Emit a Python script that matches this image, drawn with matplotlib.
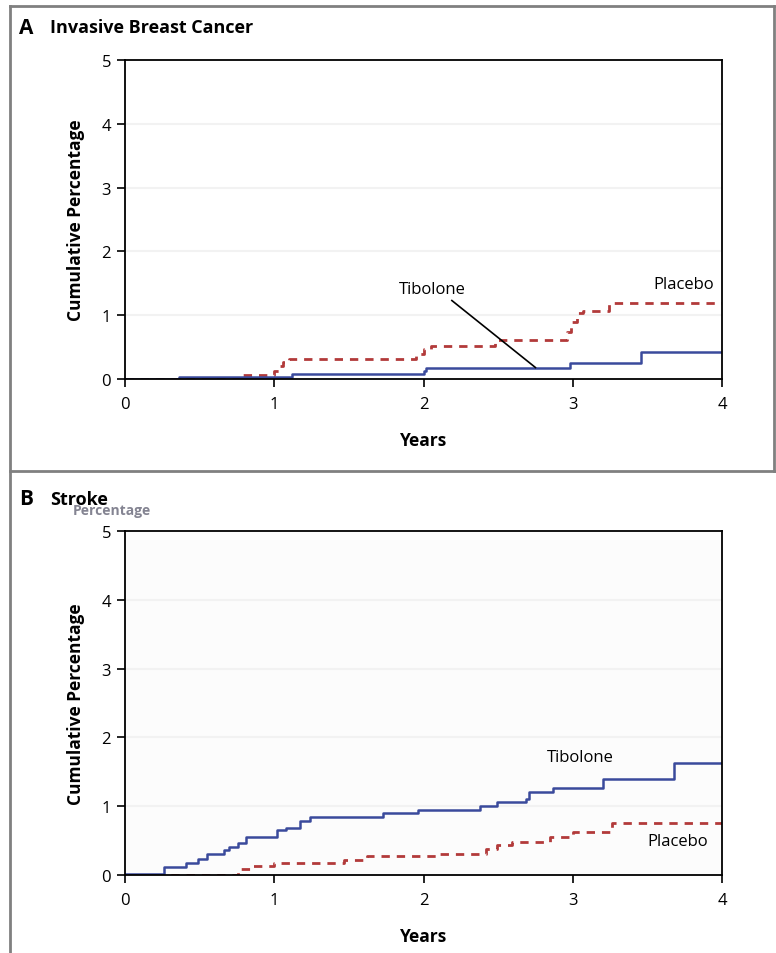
# Curvas acumuladas de Kaplan-Meier: tibolona vs placebo
import matplotlib.pyplot as plt
from matplotlib.lines import Line2D

plt.rcParams['font.family'] = ['Open Sans', 'DejaVu Sans']

# Panel A - cancer de mama invasivo
a_tib_x = [0, 0.36, 1.12, 2.0, 2.02, 2.98, 3.46, 4.0]
a_tib_y = [0, 0.03, 0.08, 0.13, 0.18, 0.25, 0.43, 0.43]
a_pla_x = [0, 0.76, 1.0, 1.03, 1.06, 1.1, 1.95, 2.0, 2.05, 2.48, 2.96, 2.99, 3.03, 3.07, 3.24, 4.0]
a_pla_y = [0, 0.07, 0.13, 0.2, 0.27, 0.31, 0.39, 0.47, 0.52, 0.61, 0.73, 0.89, 1.04, 1.07, 1.19, 1.19]

# Panel B - ictus
b_tib_x = [0, 0.26, 0.41, 0.49, 0.55, 0.66, 0.70, 0.76, 0.81, 1.02, 1.08, 1.17, 1.24, 1.73,
           1.96, 2.38, 2.49, 2.69, 2.71, 2.87, 3.20, 3.68, 4.0]
b_tib_y = [0.01, 0.12, 0.17, 0.23, 0.31, 0.36, 0.40, 0.47, 0.55, 0.66, 0.69, 0.79, 0.85, 0.90,
           0.95, 1.0, 1.06, 1.11, 1.21, 1.27, 1.40, 1.63, 1.63]
b_pla_x = [0, 0.76, 0.86, 1.0, 1.47, 1.62, 2.11, 2.42, 2.49, 2.59, 2.85, 3.0, 3.26, 4.0]
b_pla_y = [0, 0.09, 0.13, 0.18, 0.22, 0.28, 0.31, 0.38, 0.43, 0.48, 0.55, 0.62, 0.76, 0.76]

xticks = [0, 1, 2, 3, 4]
yticks = [0, 1, 2, 3, 4, 5]

azul = '#3a4a9c'
rojo = '#b23a3a'

fig = plt.figure(figsize=(7.76, 9.54), dpi=100)

# marco gris de la figura
marco = dict(color='#808080', lw=2, transform=fig.transFigure)
fig.add_artist(Line2D([10/776, 10/776], [0, 1 - 7/954], **marco))
fig.add_artist(Line2D([10/776, 774/776], [1 - 7/954, 1 - 7/954], **marco))
fig.add_artist(Line2D([774/776, 774/776], [1 - 472/954, 1 - 7/954], **marco))
fig.add_artist(Line2D([10/776, 1], [1 - 472/954, 1 - 472/954], **marco))

ax1 = fig.add_axes([125/776, 574/954, 597/776, 319/954])
ax2 = fig.add_axes([125/776, 78/954, 597/776, 344/954])

for ax in (ax1, ax2):
    ax.set_xlim(0, 4)
    ax.set_ylim(0, 5)
    ax.set_xticks(xticks)
    ax.set_yticks(yticks)
    ax.tick_params(labelsize=12, length=6, width=1.2, direction='out', pad=4)
    ax.tick_params(axis='x', pad=6)
    for s in ax.spines.values():
        s.set_linewidth(1.3)
    for v in [1, 2, 3, 4]:
        ax.axhline(v, color='#f2f2f2', lw=1.5, zorder=0)
    ax.set_xlabel('Years', fontsize=12.5, fontweight='bold', labelpad=14)
    ax.set_ylabel('Cumulative Percentage', fontsize=12.5, fontweight='bold', labelpad=12)

ax2.set_facecolor('#fcfcfc')

ax1.plot(a_pla_x, a_pla_y, drawstyle='steps-post', color=rojo, lw=2, ls=(0, (3, 2.5)))
ax1.plot(a_tib_x, a_tib_y, drawstyle='steps-post', color=azul, lw=1.8)
ax1.text(2.06, 1.41, 'Tibolone', fontsize=12, ha='center', va='center')
ax1.plot([2.19, 2.75], [1.23, 0.18], color='black', lw=1.2)
ax1.text(3.74, 1.49, 'Placebo', fontsize=12, ha='center', va='center')

ax2.plot(b_pla_x, b_pla_y, drawstyle='steps-post', color=rojo, lw=2, ls=(0, (3, 2.5)))
ax2.plot(b_tib_x, b_tib_y, drawstyle='steps-post', color=azul, lw=1.8)
ax2.text(3.05, 1.72, 'Tibolone', fontsize=12, ha='center', va='center')
ax2.text(3.70, 0.49, 'Placebo', fontsize=12, ha='center', va='center')

# titulos de los paneles
fig.text(19/776, 1 - 28/954, 'A', fontsize=15, fontweight='bold', va='center')
fig.text(50/776, 1 - 28/954, 'Invasive Breast Cancer', fontsize=13, fontweight='bold', va='center')
fig.text(19/776, 1 - 500/954, 'B', fontsize=15, fontweight='bold', va='center')
fig.text(50/776, 1 - 500/954, 'Stroke', fontsize=13, fontweight='bold', va='center')
# texto residual que aparece en la figura original
fig.text(73/776, 1 - 511/954, 'Percentage', fontsize=10, fontweight='bold', color='#666677',
         va='center', alpha=0.8)

fig.savefig('out.png', dpi=100)
